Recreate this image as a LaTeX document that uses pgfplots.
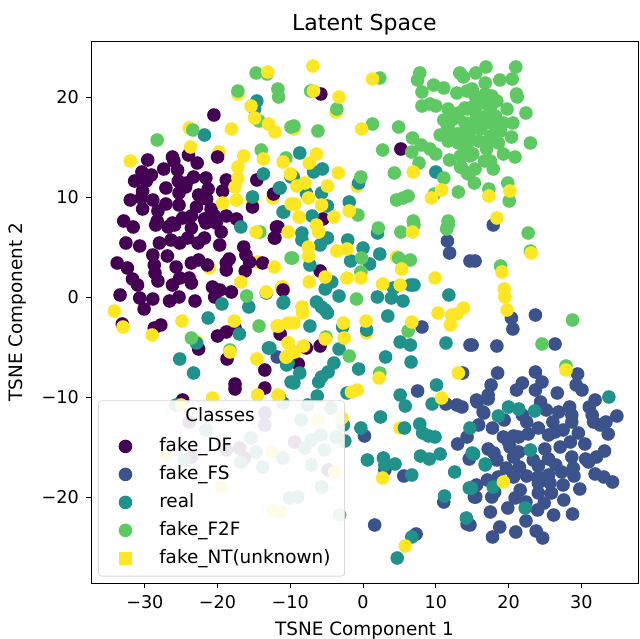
\documentclass[border=0pt]{standalone}
\usepackage{fontspec}
\setmainfont{DejaVu Sans}
\usepackage{pgfplots}
\pgfplotsset{compat=1.18}
\definecolor{cDF}{HTML}{440154}
\definecolor{cFS}{HTML}{3B528B}
\definecolor{cRE}{HTML}{21918C}
\definecolor{cFF}{HTML}{5EC962}
\definecolor{cNT}{HTML}{FDE725}
\pgfplotsset{
 pt/.style={only marks,mark=*,mark size=3.4pt,mark options={draw=none,fill=#1,fill opacity=1,draw opacity=0},color=#1},
}
\begin{document}
\begin{tikzpicture}
\path[use as bounding box] (-45.5pt,-28pt) rectangle (274pt,291.5pt);
\begin{axis}[
 at={(0,0)},anchor=south west,scale only axis,width=273.5pt,height=271pt,
 xmin=-37.4,xmax=37.8,ymin=-28.6,ymax=25.6,
 xtick={-30,-20,-10,0,10,20,30},xticklabels={−30,−20,−10,0,10,20,30},
 ytick={-20,-10,0,10,20},yticklabels={−20,−10,0,10,20},
 tick align=outside,tick style={black,line width=0.4pt},major tick length=2.6pt,
 xtick pos=bottom,ytick pos=left,
 axis line style={black,line width=0.4pt},
 tick label style={font=\fontsize{8.8}{10}\selectfont},
 label style={font=\fontsize{9.2}{11}\selectfont},
 title style={font=\fontsize{11}{13}\selectfont,yshift=-6.5pt},
 title={Latent Space},xlabel={TSNE Component 1},ylabel={TSNE Component 2},
 xlabel style={yshift=0pt},ylabel style={yshift=1pt},
 legend style={at={(0.0128,0.012)},anchor=south west,font=\fontsize{9.2}{11}\selectfont,
  fill=white,fill opacity=0.9,draw opacity=1,text opacity=1,draw=black!15,rounded corners=1.5pt,
  inner xsep=5pt,inner ysep=3.25pt,row sep=2.8pt,nodes={inner ysep=1pt,text height=7pt,text depth=2.2pt}},
 legend cell align=left,
]
% yellow points lying under others
\addplot[pt=cNT,forget plot] table {
-19.8 14.5
-9.9 12.3
-12.4 9.9
-15.2 9.4
-17.2 20.3
-23.9 16.9
-21.1 2.9
-14.5 3.5
-11 1
-22.8 -4.5
-3.7 18.5
-9.5 16.8
-0.8 11.1
-11.2 1
0.5 -3.6
5.1 -13.1
4.6 4
};
\addlegendimage{empty legend}\addlegendentry{\phantom{X}}
% fake_DF
\addplot[pt=cDF] table {
-20.5 18.2
-20 14
-29.6 13.7
-26.2 14
-24 14.2
-22.8 13.4
-26 13.6
-30.4 12.5
-27.4 12.8
-25.5 12.7
-29.1 12.2
-31.4 11.6
-29.8 11.6
-23.3 12
-21.6 11.9
-18.8 11.7
-14.6 11.7
-24.3 11.4
-25.4 11.6
-27.1 10.9
-21.3 10.8
-19.3 10.6
-12.3 10.3
-30.3 10.6
-25.3 10.4
-24.4 11
-32 9.7
-30.5 9.9
-28.9 9.7
-22.6 10.2
-21.5 9.8
-27.1 9.3
-25.3 9.2
-28.2 8.6
-30.3 8.8
-22.9 9
-15.2 9
-20.9 8.8
-23.6 8.1
-24.8 7.9
-20.4 8.1
-18.8 8.1
-17.4 7.8
-32.9 7.6
-31.6 7
-28.3 7.6
-26.2 7.4
-21.8 7.8
-28.5 7.2
-26.8 7
-25.9 7.2
-23.6 6.9
-21.6 7.4
-20.2 7.4
-19.5 6.5
-11.7 7
-12.2 5.9
-32.6 5.4
-30.7 5.1
-28 5.4
-26.4 5.7
-25.2 5.4
-24.1 5.9
-22.7 5.4
-21.8 5.9
-19.7 5.2
-16.4 5
-26.9 4.1
-28.9 4.2
-16.1 4.2
-23.6 3.4
-22.6 3.7
-21.4 3.2
-18.4 3.8
-18.8 3.4
-18.8 2.7
-15.6 3.5
-13.8 3.4
-16.2 2.6
-33.8 3.4
-32.4 2.9
-28.7 3.2
-25.7 3
-28.6 2.4
-28.2 1.6
-31.7 1.8
-25.2 1.9
-23.9 1.9
-31 1.2
-26.2 1.2
-23.6 1.4
-20.7 1
-19.7 0.7
-18.1 0.5
-20.4 0
-33.4 0.2
-30.7 -0.1
-28.9 -0.2
-26.6 -0.4
-25.3 0
-23.1 -0.4
-30.1 -1.2
-11 0.7
-33.1 -2.7
-28.7 -3.1
-27.8 -2.8
-20 -3.9
-18.8 -3.5
-17.6 -3.1
-22.6 -5.2
-11.4 -3.7
-18.7 -6.2
-13.5 -7.3
-17.6 -8.7
-17.6 -9.2
-13.5 -9.1
-24.8 -10.3
-11.9 7
-12.1 5.9
-5.5 7.8
-5.8 20.3
5.2 14.8
-5.9 2.6
-5.9 -4.9
-7.8 -5.1
-8.9 -6.7
-13.5 -11.6
-13.5 -12.8
-23.9 -12.5
-18.8 -15.3
-17 -15.1
-16.3 -16.1
-23.6 -16
-9.4 -14.5
-4.8 -17.3
};
\addlegendentry{\hspace{11.5pt}fake\_DF}
% fake_FS
\addplot[pt=cFS] table {
-11.8 -6
11.6 5.6
11.9 4.4
8.1 -3
7.5 -9.4
14.7 -4.8
13.7 -7.6
14.7 3.6
17.9 7.2
15.4 3.6
20.4 -2.1
20.6 -3.2
23.7 -1.8
15 -4.8
18.4 -4.9
26.4 -4.7
18.5 -7.6
23.7 -7.5
29.5 -7.7
17.6 -8.8
17.2 -9.8
15.6 -10.3
21.1 -9.3
21.9 -8.6
23.7 -9.3
24.6 -8.5
26.7 -9.6
29.3 -8.8
30.1 -9.3
31.9 -10.3
24.4 -10.5
17.2 -10.2
15.7 -10.5
25.2 -11.3
28.4 -11
31.1 -11
16.5 -11.5
26.9 -11.5
21.9 -11.8
28.7 -11.8
34.9 -11.9
19.4 -12.3
31.5 -11.8
22.5 -12.5
26.1 -12.5
28.7 -12.5
31.7 -12.5
33.4 -12.5
15.9 -12.8
17.8 -13.1
32.6 -12.8
24.1 -13.1
27.5 -13.3
29.6 -13.6
33.7 -13.7
22.7 -13.7
25.5 -13.8
26.4 -13.5
19.3 -14
20.7 -13.9
21.4 -14
20 -14.5
28.5 -14.5
30.5 -14.7
27.1 -15
25 -15.2
20.2 -15
21.4 -15.5
17.2 -15.2
18 -15.6
33.2 -15.4
20.7 -16
18.4 -16.3
28.7 -16
32.1 -16
30.6 -16.2
31 -16.5
23.4 -16.3
25.5 -16.2
26.5 -16.8
24.1 -16.9
21.5 -17
19.7 -17.1
28.9 -17.1
27.3 -17.5
25.5 -17.8
20.7 -18
22.5 -17.9
24.1 -18
29 -17.9
31.9 -17.7
33.1 -18
34.3 -18.5
17.1 -18.3
18.6 -18
27.5 -18.8
25.7 -18.6
24.1 -18.6
29.8 -19.2
18.1 -19.5
21.6 -19.3
24.1 -19.6
25.9 -19.6
15.5 -20
17.7 -20
20.9 -20.1
22.4 -20.5
27.6 -20.3
24.9 -20.6
19.9 -21.1
24 -21.3
17.5 -21.5
26.2 -21.8
28.8 -21.7
22.4 -22.4
14.7 -22.8
18.8 -23
21 -23.5
23.8 -23.4
24.7 -24.1
17.8 -24
11.4 -10.7
12.9 -10.8
13.6 -11
16.6 -11.6
14.3 -14
13 -14.7
0.2 -13.9
3 -17.3
5.6 -17.9
14.6 -16.2
15.6 -18.8
15.3 -20
11.1 -20.5
14.3 -22.7
1.6 -22.8
7.3 -23.7
};
\addlegendentry{\hspace{11.5pt}fake\_FS}
% real
\addplot[pt=cRE] table {
-14.6 19.6
-14.9 18.8
-21.8 16.2
-13.7 12.3
-11.5 10.9
-15.2 10
-10.9 8.5
-9.9 12
-16.8 7
-19.4 -0.7
-15.7 -1
-10.9 -0.5
-21.3 -2.1
-17 -3.7
-22.9 -4.6
-13 -5.1
-25.2 -6.2
-23.3 -7.6
-10.3 -6.6
-9.9 -8.5
-13.3 0.4
-11.5 -10
-8.7 14.4
-6.8 12.5
-5.6 12.8
-9.6 12
-11.4 10.9
-7.8 10.4
-5.7 10.4
-4.9 9.1
-1.9 9.5
-0.6 11.4
-11 8.5
-7 8.1
10 12.5
-8.4 6.4
-8.4 5.7
-4.9 5.9
-5.9 5.2
-2.1 5.7
0 4.9
2.3 4.3
-1.7 3.6
0.9 3.3
2 6.4
-7.3 3.2
-4.3 1.5
-5.2 0.8
-3.3 0.1
1.97 0
4.2 0.9
3.9 -0.1
5.5 -0.4
6.5 1.2
7 1.2
-6.4 -0.5
-5.7 -1
-5.2 -1.3
-4.9 -1.6
-11 -0.6
-7.3 -2.9
-2.8 -3
0.5 -3.3
3.4 -1.9
11.8 0.2
5.1 -4.5
6.5 -4.8
11.4 -4.6
-3.3 -5.2
3.1 -6
6.6 -6.5
-4 -6.6
-4.8 -7.5
-5.7 -8
-6.1 -8.5
-8.7 -7.6
-10.5 -6.8
-9.5 -8.6
-0.6 -7.2
10.1 -8.8
-6.3 -9.9
5.1 -9.8
-2.2 -9.6
-12.8 -5.1
33.8 -10
20 -11
21.4 -11.2
18.6 -11.9
23.6 -11.4
23 -15.3
16.8 -16.8
15.2 -15.7
14.7 -13.1
14.9 -19.1
17.9 -19
22.3 -21.1
5.8 -10.9
9.5 -10.7
2.4 -12
-0.3 -13.1
-2.7 -12.8
-2.5 -14.4
5.7 -13.1
7.8 -12.7
8.2 -13.6
9 -13.9
9.9 -14
0.6 -16.3
2.8 -16.1
4.4 -16.7
7.9 -15.9
9.1 -16.2
10.6 -15.7
12.6 -17.5
6.7 -17.8
3 -16.8
14.6 -19.1
11.2 -19.9
15 -15.6
16.8 -16.7
14.2 -22.1
6.7 -24
4.7 -26.1
-25.7 -10.8
-21.6 -13.3
-15.4 -14.1
-14.7 -15.5
-16.8 -16.5
-11 -16.1
-13.8 -17
-8.5 -12.3
-7.6 -10.8
-4.4 -11.1
-5.8 -13.8
-7.1 -14.3
-8 -15.1
-5.3 -15.3
-3.7 -14
-7.1 -16.8
-5.7 -19
-10.1 -20.1
-9 -20
-24.6 -16.3
-11 -10.6
};
\addlegendentry{\hspace{11.5pt}real}
% fake_F2F
\addplot[pt=cFF] table {
-14.7 22.4
-13.2 22.3
-17.2 20.6
-11.7 20.8
-11.6 20
-14.3 17.6
-23.4 16.7
-28.3 15.7
-14 14.7
-10.6 13.9
-9.9 17
2.3 21.9
-7.2 20.6
-3.6 18.8
-9.5 17.1
-6.2 16.6
1.3 17.3
4.9 17
2.7 14.7
4.3 12.4
7.7 13.4
6.7 14.5
-0.3 12
-0.7 8.2
9.8 10.3
13.1 10.5
11.1 11.9
4.6 9.7
5.5 9.9
6.2 10.1
11.7 7.6
6.9 7.6
7.8 22.4
7.5 21.7
13.3 22.4
13.8 22
9.7 21.2
11.1 20.9
8.1 20.5
12.9 20.4
14.3 20.6
8.1 19.1
9.2 19.3
10 19.1
11.7 18.8
13.1 18.4
14.3 18.8
11.1 17.7
12.4 17.8
14.3 17.3
10.6 16.2
11.8 17.3
12.9 16.3
14.3 16.1
11.7 15.6
13.1 15.4
14.3 15.3
6.8 15.9
8 15.2
9.2 14.8
10 14.3
11.9 13.7
13.4 14.1
13.4 13
14.3 12.4
14.7 14.1
15.5 22.4
16.9 23
21 23
18.8 21.7
20.5 21.8
16.8 21.4
15 20.8
15.4 20.1
16.8 20.3
17.7 20.1
21.1 20.3
21.2 20
18.4 19.6
16.6 19.4
15.2 19.1
14 18.9
17.5 18.9
19.8 18.8
22.4 18.4
15.6 18.3
17 18.1
18.2 18.1
12 18.3
14 17.4
15.2 17.4
16.6 17.3
17.9 17.3
19.3 17.4
20.6 17.4
11.6 17.1
14.7 16.6
16.1 16.8
18.9 16.6
20.4 16
11.7 16.3
13.1 16.3
17.5 16.1
13.1 15.5
15.9 15.6
17.3 15.6
18.6 15.4
23 15.4
17 14.8
14.3 14.9
19.3 14.3
20.9 14
13.6 14.1
15.1 14.3
16.7 13.6
17.5 13.6
17.9 12.8
13.5 13
15.4 12.8
14.5 12.3
15.3 11.4
17.3 10.8
19.9 11.4
20.1 9.6
-16 0.1
-14.3 -2.9
-23.6 -4.1
-9.9 3.9
-18.3 -5.3
-14.2 6.5
-0.9 -0.2
7 7.2
5.2 6.5
2.1 6.9
-9.7 3.9
-0.2 3.9
-0.3 2.5
4.9 3.9
6.5 3.7
6.2 -3.4
-1.9 -5.9
2.3 -7.6
-5.1 -4
11.7 7.2
11.5 6.8
22.7 6.4
23 4.6
18.9 3.1
28.8 -2.3
24.6 -4.7
27.9 -6.9
-3.2 -21.8
};
\addlegendentry{\hspace{11.5pt}fake\_F2F}
% fake_NT on top
\addplot[pt=cNT,forget plot] table {
-32 13.6
-18.1 16.8
-13.1 22.5
-23.7 15
-15.4 19.1
-14.9 17.9
-13 17.3
-12.1 16.5
-16.4 14.1
-13.7 13.8
-11 13.5
-17.2 13
-17.2 11.9
-17.6 11
-19.3 9.4
-17.4 9.7
-9.9 9.3
-14.7 6.5
-10.3 6.5
-12.2 3
-16.8 1.5
-13.3 0.5
-34.2 -1.4
-33 -3
-29 -3.8
-24.9 -2.4
-17.7 -2.4
-11.6 -2.9
-10.3 -2.6
-10.3 -4.6
-18.3 -5.5
-14.6 -6.2
-10.6 -6
-20.7 -10.1
-14.5 -9.8
-11.6 -9.9
-6.9 23.1
1.3 21.8
-6.8 20.6
-3.3 20
-0.2 16.8
6.9 12.5
10.8 10.7
9.4 9.9
-6.4 14.3
-7.4 13.4
-3.4 12.4
-10 12.3
-8 11.4
-9.1 11.1
-4.9 11.1
-7.5 9.9
-9.4 9.3
-5.7 9.2
-1.9 8.6
-8.8 8
-4 8
17.3 10.1
20.2 10.6
18.4 7.9
-6.1 6.5
-6.4 7.2
-7.5 5
-7.5 4.1
-3.6 4.6
-2.2 4.8
-7.4 1.5
-5.2 2
-2.2 1.9
-0.3 1.9
2.7 1.3
5.1 1.2
5.3 2.8
6.8 6.5
9.9 1.9
10.3 -1.6
12 -2.8
12.2 -1.8
12.9 -1.7
13.8 -1.1
-8.4 -1
-8.3 -1.6
-9.5 -2.6
-11.8 -2.9
-2.7 -2.6
-2.6 -4.1
0.4 -2.4
6.7 -2.5
-5.2 -4.2
-10.3 -4.6
-8.2 -4.9
-9.4 -5.5
-10.5 -6
2.2 -8.1
-1.6 -9.5
-0.8 -9.3
-11.7 -9.8
10.8 -10.1
13.1 -7.6
19.1 2.5
19.4 0.8
19.5 0
19.8 -1.3
23.1 4.4
27.9 -7.3
19.3 -18.5
2.7 -18.1
5.8 -24.9
-2.9 -12.1
-25 -10.8
-27.1 -15.8
-12.6 -15.5
-6.2 -12.3
-19.5 -19
-12.4 -21.3
-3.9 -17.5
-11.3 -21.5
};
\addlegendimage{only marks,mark=square*,mark size=3pt,color=cNT,mark options={draw=cNT,fill=cNT,fill opacity=1,draw opacity=1}}
\addlegendentry{\hspace{11.5pt}fake\_NT(unknown)\hspace{-2.5pt}}
\end{axis}
\node[font=\fontsize{9.2}{11}\selectfont] at (64.5pt,84pt) {Classes};
\end{tikzpicture}
\end{document}
